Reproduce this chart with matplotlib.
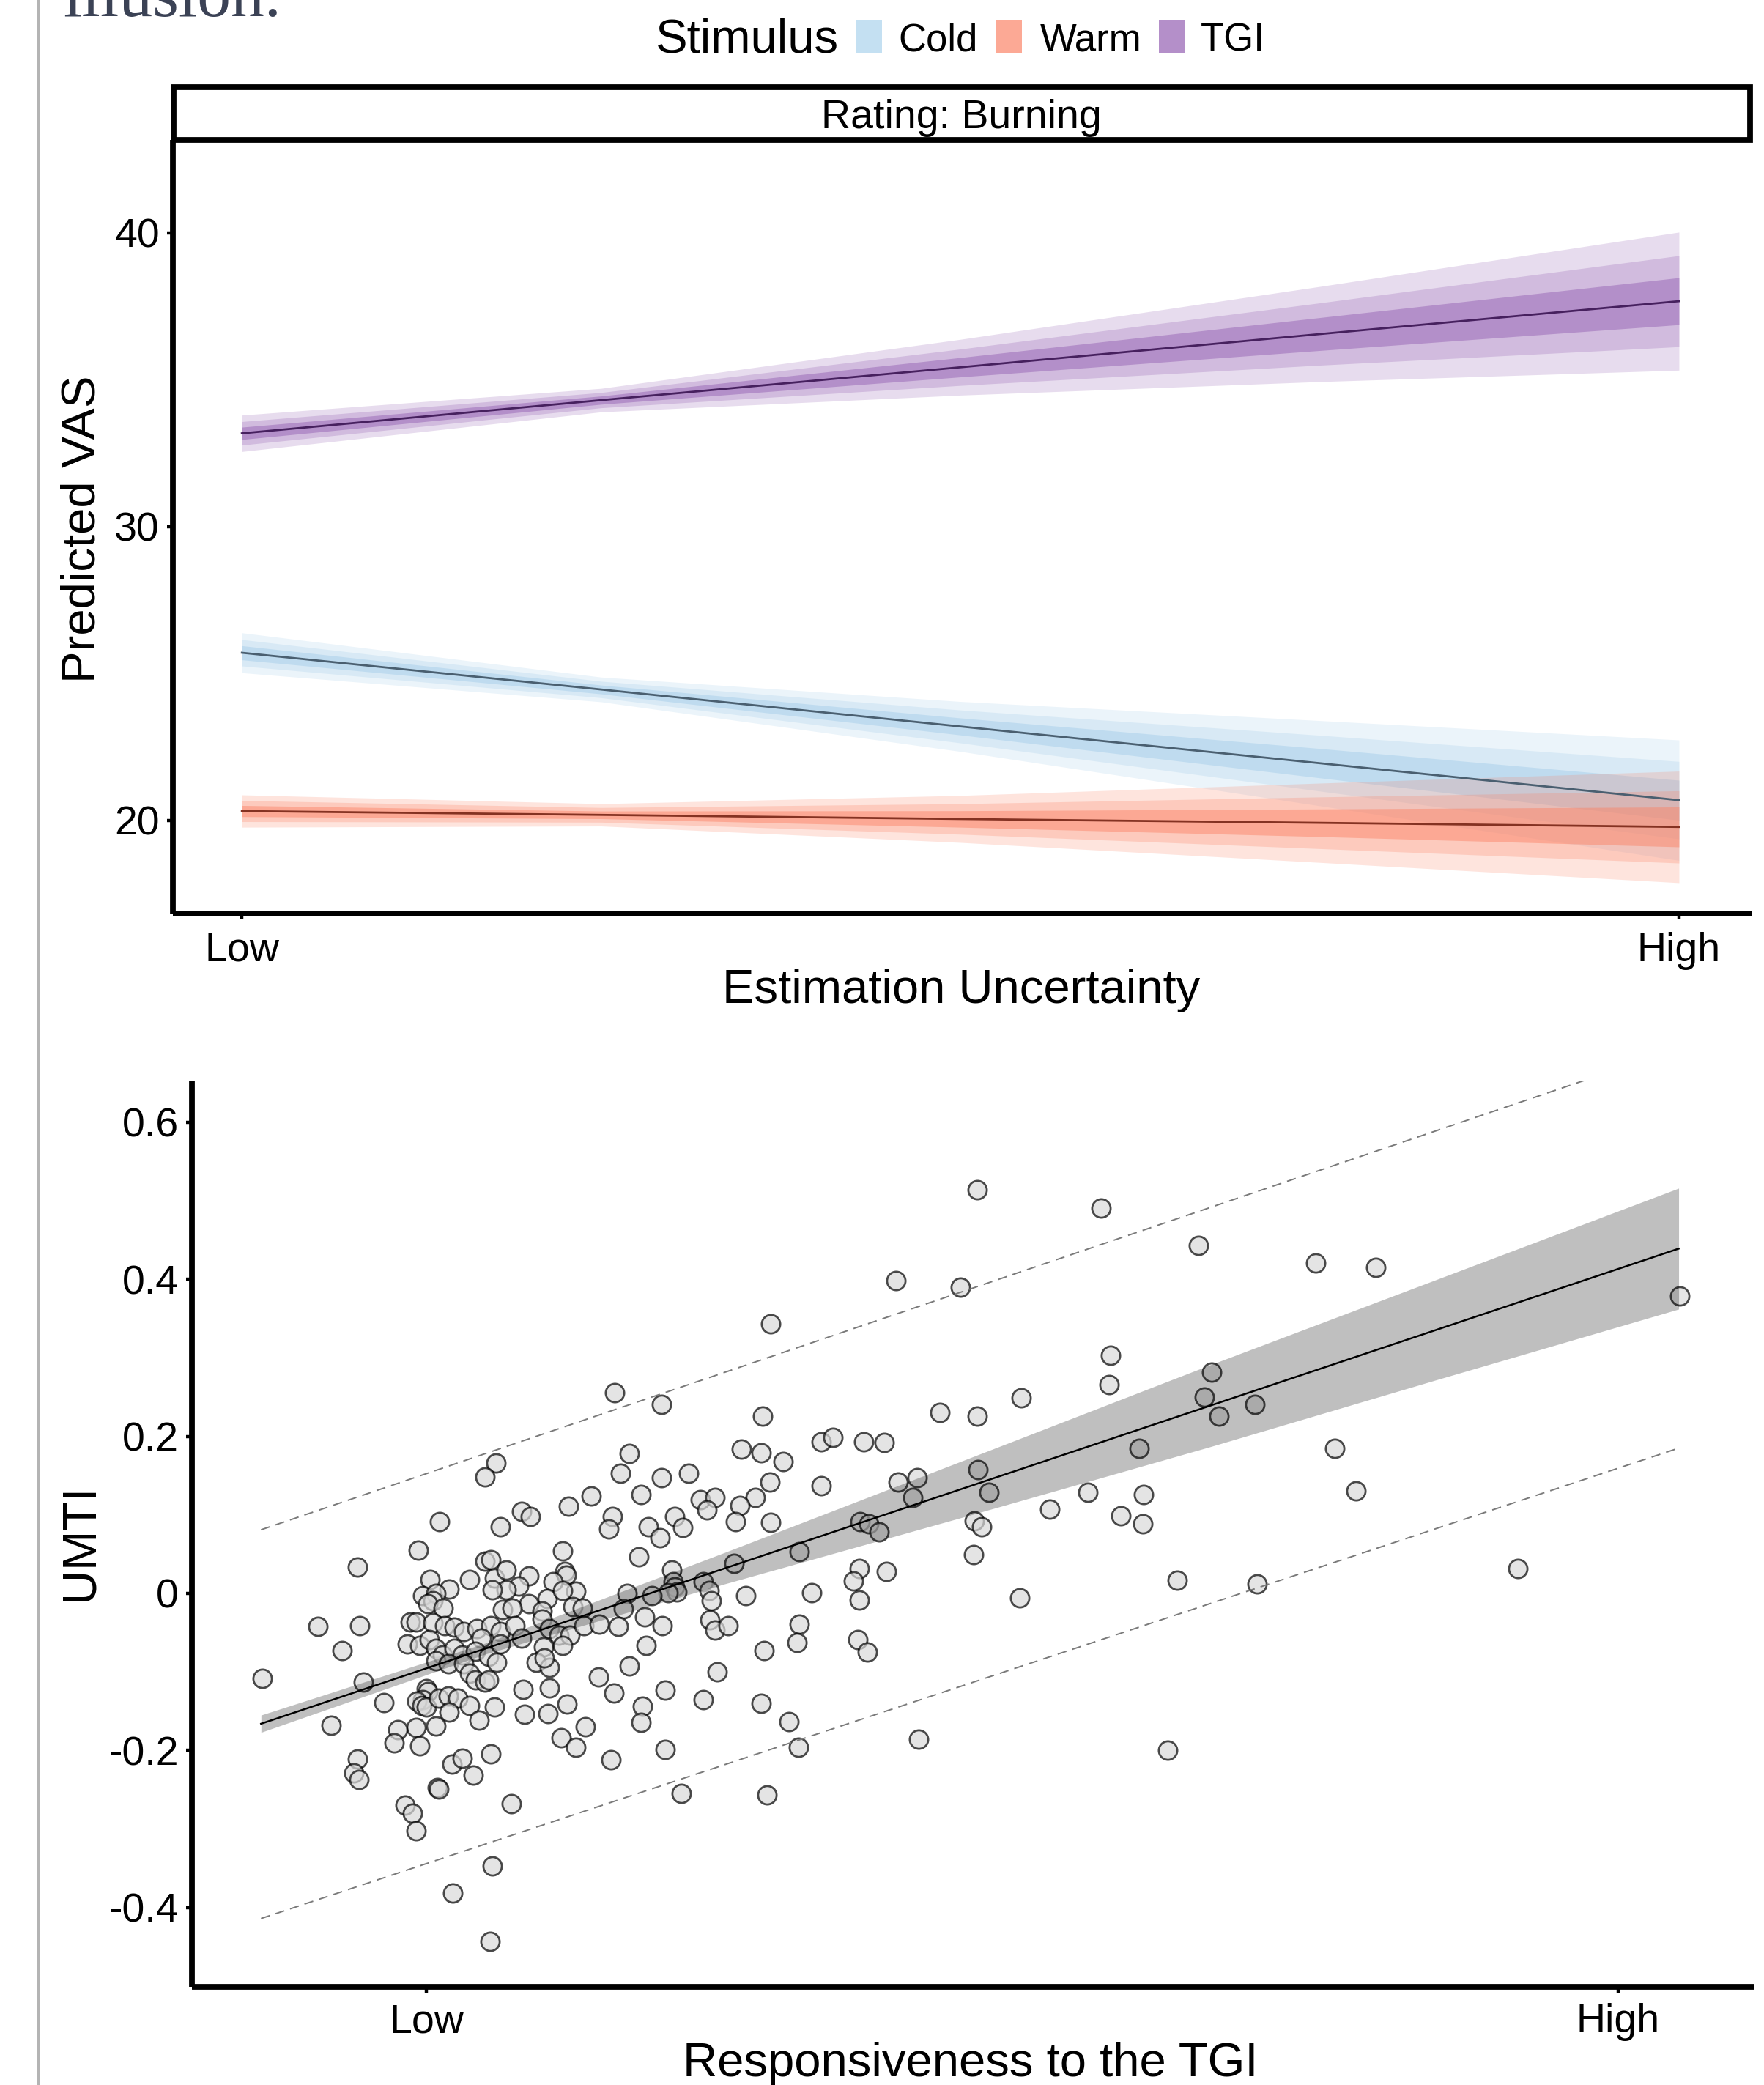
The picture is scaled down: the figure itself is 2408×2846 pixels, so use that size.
import numpy as np
import matplotlib.pyplot as plt
from matplotlib.patches import Rectangle
from matplotlib.lines import Line2D

plt.rcParams['font.family'] = ['Liberation Sans', 'DejaVu Sans']
plt.rcParams['lines.scale_dashes'] = False

W, H = 2408, 2846

# --- predicted VAS (burning ratings) across estimation uncertainty ---
unc_x = [0.0, 0.25, 0.5, 0.75, 1.0]

cold_mean = [25.70, 24.45, 23.19, 21.94, 20.68]
cold_w95 = [0.68, 0.42, 0.85, 1.45, 2.05]
cold_w80 = [0.45, 0.28, 0.56, 0.95, 1.32]
cold_w50 = [0.24, 0.15, 0.29, 0.50, 0.68]

warm_mean = [20.31, 20.18, 20.04, 19.91, 19.77]
warm_w95 = [0.55, 0.38, 0.80, 1.35, 1.90]
warm_w80 = [0.36, 0.25, 0.52, 0.88, 1.23]
warm_w50 = [0.19, 0.13, 0.28, 0.47, 0.68]

tgi_mean = [33.17, 34.30, 35.42, 36.55, 37.67]
tgi_w95 = [0.62, 0.40, 0.95, 1.62, 2.35]
tgi_w80 = [0.40, 0.26, 0.62, 1.06, 1.55]
tgi_w50 = [0.21, 0.14, 0.33, 0.56, 0.80]

stimuli = ['Cold', 'Warm', 'TGI']

# --- UMTI vs responsiveness to the TGI ---
resp_x = [
    0.158, 0.197, 0.170, 0.058, 0.049, 0.163, 0.197, 0.220,
    0.138, 0.180, 0.230, 0.242, 0.235, 0.119, 0.080, 0.087, 0.011, 0.062,
    0.156, 0.153, 0.186, 0.208, 0.215, 0.196, 0.114, -0.007, 0.178, -0.058,
    0.049, 0.054, 0.206, 0.116, 0.117, 0.003, 0.036, 0.057, 0.067, 0.019,
    0.086, 0.106, 0.077, 0.067, 0.055, 0.125, 0.168, 0.207, 0.208, 0.210,
    0.203, 0.189, 0.232, 0.237, 0.239, -0.003, 0.008, 0.005, 0.001, 0.014,
    0.101, 0.086, 0.114, 0.064, 0.072, 0.097, 0.123, 0.131, 0.165, -0.091,
    -0.056, -0.014, -0.009, 0.005, 0.015, 0.023, 0.031, 0.042, 0.054, 0.062,
    0.046, 0.074, 0.080, 0.097, 0.103, 0.111, 0.120, 0.132, 0.145, 0.161,
    0.183, 0.198, 0.238, 0.242, -0.071, -0.016, -0.006, 0.002, 0.008, 0.013,
    0.023, 0.030, 0.041, 0.052, 0.059, 0.062, 0.008, 0.018, 0.031, 0.098,
    0.114, 0.092, 0.103, 0.099, 0.184, 0.170, 0.144, 0.244, -0.138, -0.053,
    0.036, 0.041, 0.049, 0.052, 0.081, 0.103, 0.157, 0.200, 0.232, 0.000,
    0.001, -0.003, -0.008, -0.004, 0.000, 0.010, 0.018, 0.026, 0.036, 0.019,
    -0.036, 0.057, 0.082, 0.102, 0.118, 0.181, 0.044, 0.008, -0.009, -0.024,
    -0.080, 0.133, 0.180, -0.027, -0.006, 0.113, 0.125, 0.054, 0.200, 0.155,
    -0.058, -0.061, -0.057, 0.021, 0.030, 0.039, 0.009, 0.010, 0.214, 0.071,
    -0.018, -0.012, -0.009, 0.055, 0.022, 0.053,
    0.462, 0.566, 0.648, 0.394, 0.448, 0.289, 0.574, 0.573, 0.499, 0.431,
    0.462, 0.282, 0.264, 0.281, 0.299, 0.331, 0.341, 0.367, 0.384, 0.288,
    0.331, 0.396, 0.412, 0.463, 0.472, 0.598, 0.653, 0.555, 0.602,
    0.276, 0.263, 0.259, 0.289, 0.258, 0.313, 0.364, 0.371, 0.380, 0.408,
    0.460, 0.466, 0.523, 0.583, 0.601, 0.459, 0.363, 0.386, 0.358, 0.363,
    0.268, 0.323, 0.498, 0.630, 0.253, 0.313, 0.311, 0.283, 0.362, 0.370,
    0.281, 0.304, 0.312, 0.413, 0.622, 0.286,
    0.746, 0.797, 1.052, 0.659, 0.695, 0.665, 0.762, 0.780, 0.697, 0.916,
]
umti_y = [
    0.256, 0.241, 0.178, 0.166, 0.148, 0.153, 0.147, 0.153,
    0.124, 0.126, 0.119, 0.122, 0.106, 0.111, 0.104, 0.098, 0.091, 0.085,
    0.098, 0.082, 0.085, 0.098, 0.084, 0.071, 0.054, 0.055, 0.047, 0.034,
    0.041, 0.043, 0.030, 0.028, 0.023, 0.018, 0.018, 0.020, 0.030, 0.006,
    0.022, 0.015, 0.009, 0.005, 0.005, 0.003, -0.000, 0.015, 0.008, 0.002,
    0.001, -0.003, 0.015, 0.004, -0.009, -0.003, 0.000, -0.009, -0.013, -0.019,
    -0.007, -0.013, 0.004, -0.021, -0.019, -0.022, -0.017, -0.019, -0.020, -0.042,
    -0.041, -0.036, -0.036, -0.037, -0.041, -0.043, -0.049, -0.045, -0.041, -0.049,
    -0.057, -0.041, -0.057, -0.033, -0.045, -0.053, -0.053, -0.041, -0.039, -0.042,
    -0.030, -0.041, -0.034, -0.047, -0.073, -0.064, -0.066, -0.059, -0.070, -0.078,
    -0.070, -0.078, -0.074, -0.080, -0.088, -0.064, -0.086, -0.090, -0.090, -0.068,
    -0.066, -0.088, -0.094, -0.082, -0.066, -0.092, -0.106, -0.100, -0.108, -0.113,
    -0.102, -0.110, -0.113, -0.110, -0.122, -0.120, -0.127, -0.123, -0.135, -0.121,
    -0.125, -0.135, -0.137, -0.143, -0.145, -0.133, -0.131, -0.133, -0.143, -0.151,
    -0.139, -0.145, -0.154, -0.153, -0.141, -0.144, -0.161, -0.169, -0.171, -0.174,
    -0.168, -0.170, -0.164, -0.190, -0.194, -0.184, -0.196, -0.204, -0.199, -0.212,
    -0.211, -0.229, -0.237, -0.217, -0.210, -0.231, -0.247, -0.249, -0.255, -0.268,
    -0.270, -0.280, -0.302, -0.347, -0.382, -0.443,
    0.514, 0.491, 0.443, 0.398, 0.390, 0.343, 0.303, 0.266, 0.249, 0.230,
    0.226, 0.226, 0.184, 0.179, 0.168, 0.193, 0.199, 0.193, 0.192, 0.142,
    0.137, 0.142, 0.147, 0.158, 0.129, 0.185, 0.250, 0.129, 0.126,
    0.122, 0.112, 0.091, 0.090, 0.038, 0.053, 0.091, 0.089, 0.078, 0.122,
    0.092, 0.085, 0.107, 0.099, 0.089, 0.049, 0.032, 0.028, 0.016, -0.008,
    -0.003, 0.001, -0.006, 0.017, -0.041, -0.039, -0.063, -0.073, -0.059, -0.075,
    -0.140, -0.163, -0.196, -0.186, -0.200, -0.257,
    0.421, 0.415, 0.379, 0.282, 0.241, 0.226, 0.185, 0.131, 0.012, 0.032,
]

# fitted line with its confidence band and prediction interval
fit_x = [-0.139, 1.051]
fit_y = [-0.166, 0.439]
band_x = [-0.139, 0.05, 0.25, 0.45, 0.656, 0.85, 1.051]
band_lo = [-0.177, -0.077, 0.012, 0.097, 0.186, 0.273, 0.362]
band_hi = [-0.155, -0.063, 0.052, 0.169, 0.290, 0.401, 0.516]
pi_x = [-0.139, 1.051]
pi_lo = [-0.414, 0.185]
pi_hi = [0.081, 0.694]


def box(left, top, right, bottom):
    return [left / W, 1 - bottom / H, (right - left) / W, (bottom - top) / H]


def style_axes(ax):
    for side in ('top', 'right'):
        ax.spines[side].set_visible(False)
    for side in ('left', 'bottom'):
        ax.spines[side].set_linewidth(5.6)
        ax.spines[side].set_capstyle('butt')
    ax.tick_params(axis='both', length=6, width=3.2, labelsize=40,
                   color='black', labelcolor='black')
    ax.tick_params(axis='y', pad=7)
    ax.tick_params(axis='x', pad=12)


fig = plt.figure(figsize=(W / 100, H / 100), dpi=100)

# bits of the surrounding page
fig.add_artist(Line2D([52 / W, 52 / W], [0, 1], transform=fig.transFigure,
                      color='#b4b4b4', lw=2.2))
fig.text(86 / W, 1 - 22 / H, 'illusion.', fontsize=66, color='#3b4255',
         family=['Liberation Serif', 'DejaVu Serif'], va='baseline', ha='left')

# ---------------- top panel ----------------
ax1 = fig.add_axes(box(236, 191, 2392, 1247))
style_axes(ax1)

series = [
    (cold_mean, [cold_w95, cold_w80, cold_w50], '#a3cdea', '#4a5f70'),
    (warm_mean, [warm_w95, warm_w80, warm_w50], '#fb8265', '#843222'),
    (tgi_mean, [tgi_w95, tgi_w80, tgi_w50], '#925db1', '#46205e'),
]
level_alpha = [0.215, 0.26, 0.466]
for mean, widths, fill, _ in series:
    m = np.array(mean)
    for w, a in zip(widths, level_alpha):
        w = np.array(w)
        ax1.fill_between(unc_x, m - w, m + w, color=fill, alpha=a, lw=0)
for mean, _, _, line in series:
    ax1.plot(unc_x, mean, color=line, lw=2.0)

ax1.set_xlim(-0.048, 1.051)
ax1.set_ylim(16.82, 43.16)
ax1.set_yticks([20, 30, 40])
ax1.set_xticks([0, 1])
ax1.set_xticklabels(['Low', 'High'])

# facet strip
fig.add_artist(Rectangle((237 / W, 1 - 191 / H), (2389 - 237) / W, (191 - 119) / H,
                         transform=fig.transFigure, facecolor='white',
                         edgecolor='black', lw=5.6))
fig.text(1312 / W, 1 - 175 / H, 'Rating: Burning', fontsize=40,
         ha='center', va='baseline')

# legend
fig.text(895 / W, 1 - 72 / H, 'Stimulus', fontsize=47, ha='left', va='baseline')
key_left = [1169, 1360, 1582]
label_left = [1226, 1420, 1639]
key_colors = ['#c4e0f2', '#fca995', '#b48fc9']
for name, kx, lx, kc in zip(stimuli, key_left, label_left, key_colors):
    fig.add_artist(Rectangle((kx / W, 1 - 73 / H), 35 / W, 46 / H,
                             transform=fig.transFigure, facecolor=kc,
                             edgecolor='none'))
    fig.text(lx / W, 1 - 69 / H, name, fontsize=38, ha='left', va='baseline')

fig.text(1312 / W, 1 - 1352 / H, 'Estimation Uncertainty', fontsize=47,
         ha='center', va='center')
fig.text(112 / W, 1 - 722 / H, 'Predicted VAS', fontsize=47, rotation=90,
         ha='center', va='center')

# ---------------- bottom panel ----------------
ax2 = fig.add_axes(box(262, 1475, 2394, 2712))
style_axes(ax2)

ax2.scatter(resp_x, umti_y, s=330, facecolor='#d9d9d9', edgecolor='black',
            linewidths=2.0, alpha=0.7, zorder=2)
ax2.fill_between(band_x, band_lo, band_hi, color='black', alpha=0.25, lw=0,
                 zorder=3)
ax2.plot(fit_x, fit_y, color='black', lw=1.8, zorder=4)
for y in (pi_lo, pi_hi):
    ax2.plot(pi_x, y, color='#7a7a7a', lw=1.4, ls=(0, (9, 6)), zorder=4)

ax2.set_xlim(-0.197, 1.114)
ax2.set_ylim(-0.501, 0.653)
ax2.set_yticks([-0.4, -0.2, 0, 0.2, 0.4, 0.6])
ax2.set_yticklabels(['-0.4', '-0.2', '0', '0.2', '0.4', '0.6'])
ax2.set_xticks([0, 1])
ax2.set_xticklabels(['Low', 'High'])
ax2.tick_params(axis='x', pad=10)

fig.text(109 / W, 1 - 2105 / H, 'UMTI', fontsize=47, rotation=90,
         ha='center', va='center')
fig.text(1325 / W, 1 - 2834 / H, 'Responsiveness to the TGI', fontsize=47,
         ha='center', va='baseline')

fig.savefig('out.png', dpi=100)
